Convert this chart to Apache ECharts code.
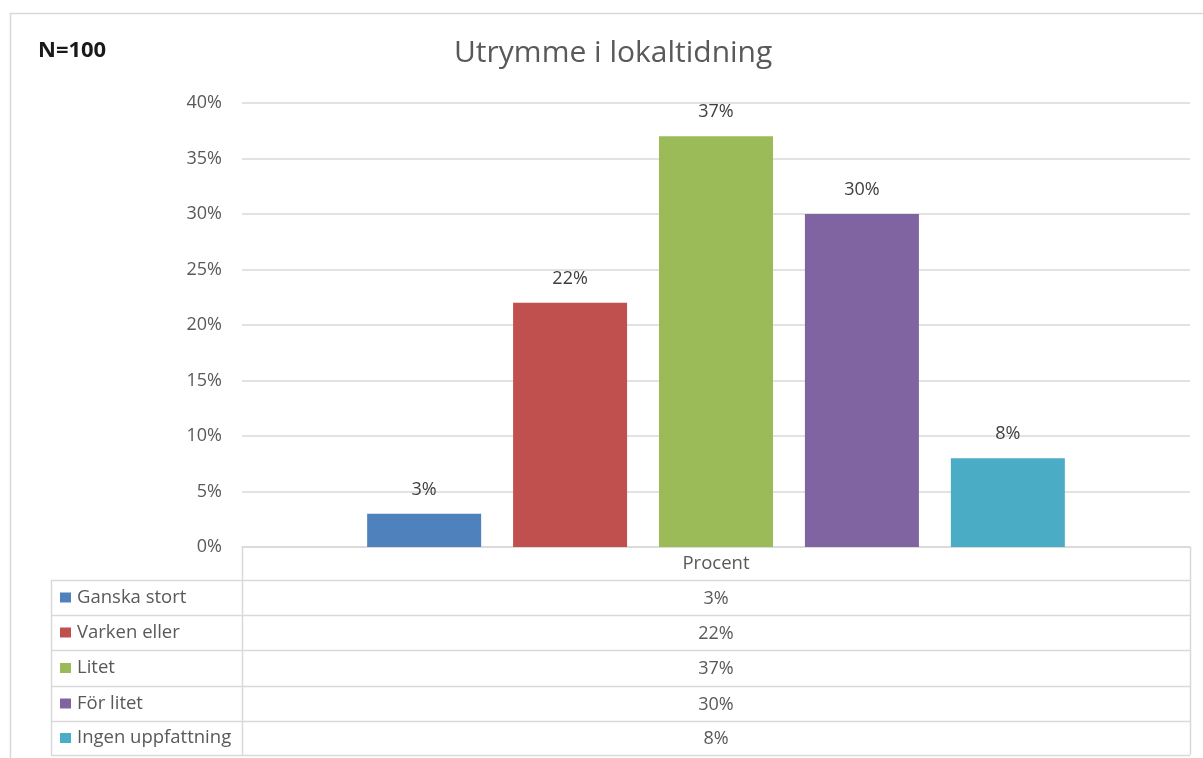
<!DOCTYPE html>
<html>
<head>
<meta charset="utf-8">
<script src="https://cdn.jsdelivr.net/npm/echarts@6/dist/echarts.min.js"></script>
<style>
  html, body { margin: 0; padding: 0; background: #fff; }
  #mycharts { width: 1203px; height: 758px; }
</style>
</head>
<body>
<div id="mycharts"></div>
<script>
// data
var categories = ["Procent"];
var seriesNames = ["Ganska stort", "Varken eller", "Litet", "För litet", "Ingen uppfattning"];
var seriesValues = [3, 22, 37, 30, 8];
var colors = ["#4f81bd", "#c0504d", "#9bbb59", "#8064a2", "#4bacc6"];
var yTicks = [0, 5, 10, 15, 20, 25, 30, 35, 40];

var FONT = "'Open Sans', 'Noto Sans', sans-serif";
var gridLeft = 242, gridTop = 103, gridW = 948, gridH = 444;
var tableLeft = 51;
var rowLines = [580, 615, 650, 686, 721, 755];

var mycharts = echarts.init(document.getElementById("mycharts"));

// tabellen under diagrammet
var graphics = [
  // yttre ram
  { type: "rect", shape: { x: 10.5, y: 13.5, width: 1300, height: 900 },
    style: { fill: "none", stroke: "#d9d9d9", lineWidth: 1.5 }, silent: true },
  { type: "line", shape: { x1: gridLeft + 0.5, y1: gridTop + gridH, x2: gridLeft + 0.5, y2: rowLines[rowLines.length - 1] },
    style: { stroke: "#d9d9d9", lineWidth: 1.5 } },
  { type: "line", shape: { x1: gridLeft + gridW + 0.5, y1: gridTop + gridH, x2: gridLeft + gridW + 0.5, y2: rowLines[rowLines.length - 1] },
    style: { stroke: "#d9d9d9", lineWidth: 1.5 } },
  { type: "line", shape: { x1: tableLeft + 0.5, y1: rowLines[0], x2: tableLeft + 0.5, y2: rowLines[rowLines.length - 1] },
    style: { stroke: "#d9d9d9", lineWidth: 1.5 } }
];
rowLines.forEach(function (y) {
  graphics.push({ type: "line", shape: { x1: tableLeft, y1: y + 0.5, x2: gridLeft + gridW, y2: y + 0.5 },
    style: { stroke: "#d9d9d9", lineWidth: 1.5 } });
});
seriesNames.forEach(function (name, i) {
  var cy = (rowLines[i] + rowLines[i + 1]) / 2;
  graphics.push({ type: "rect", shape: { x: 60, y: cy - 5, width: 11, height: 10 }, style: { fill: colors[i] } });
  graphics.push({ type: "text", x: 77, y: cy,
    style: { text: name, fill: "#595959", font: "18.5px " + FONT, textVerticalAlign: "middle" } });
  graphics.push({ type: "text", x: gridLeft + gridW / 2, y: cy + 1,
    style: { text: seriesValues[i] + "%", fill: "#595959", font: "18px " + FONT, textAlign: "center", textVerticalAlign: "middle" } });
});
// N=100
graphics.push({ type: "text", x: 38, y: 51,
  style: { text: "N=100", fill: "#1a1a1a", font: "bold 22px " + FONT, textVerticalAlign: "middle" } });

var series = seriesNames.map(function (name, i) {
  return {
    name: name,
    type: "bar",
    data: [seriesValues[i]],
    barWidth: 114,
    barGap: "28%",
    itemStyle: { color: colors[i] },
    label: {
      show: true,
      position: "top",
      distance: 15,
      formatter: "{c}%",
      color: "#404040",
      fontSize: 18,
      fontFamily: FONT
    }
  };
});

var option = {
  animation: false,
  title: {
    text: "Utrymme i lokaltidning",
    left: 449,
    top: 33,
    textStyle: { color: "#595959", fontSize: 30, fontWeight: "normal", fontFamily: FONT }
  },
  grid: { left: gridLeft, top: gridTop, width: gridW, height: gridH },
  xAxis: {
    type: "category",
    data: categories,
    axisLine: { lineStyle: { color: "#d9d9d9", width: 1.5 } },
    axisTick: { show: false },
    axisLabel: { color: "#595959", fontSize: 18.5, fontFamily: FONT, margin: 7 }
  },
  yAxis: {
    type: "value",
    min: yTicks[0],
    max: yTicks[yTicks.length - 1],
    interval: 5,
    axisLine: { show: false },
    axisTick: { show: false },
    axisLabel: { formatter: "{value}%", color: "#595959", fontSize: 18, fontFamily: FONT, margin: 20 },
    splitLine: { lineStyle: { color: "#d9d9d9", width: 1.5 } }
  },
  graphic: graphics,
  series: series
};
mycharts.setOption(option);
</script>
</body>
</html>
